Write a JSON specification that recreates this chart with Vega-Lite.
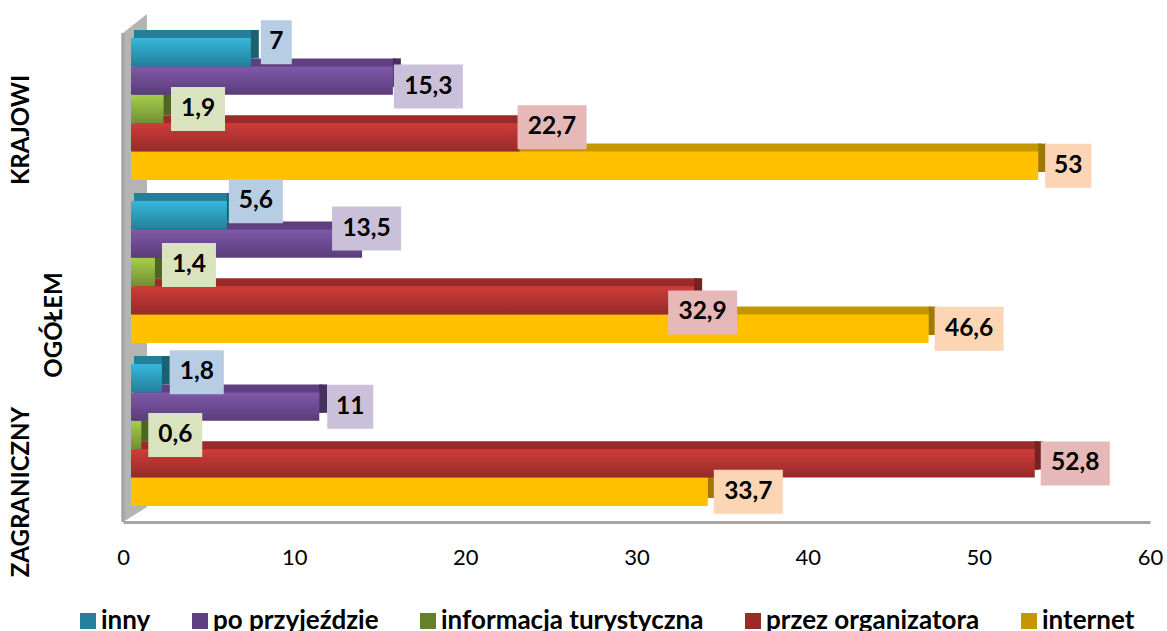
{
"$schema":"https://vega.github.io/schema/vega-lite/v6.json",
"autosize":"none","width":1027,"height":500,
"padding":{"left":123,"top":22,"right":17,"bottom":109},
"background":"white",
"config":{"view":{"stroke":null},"font":"Lato"},
"params":[
{"name":"nudge","value":{"7":[10,-10],"15,3":[1,6],"1,9":[7.5,0],"22,7":[-2,-10],"53":[7,0],"5,6":[2,-14],"13,5":[-30,-15],"1,4":[7,-7],"32,9":[-26,12],"46,6":[6,0],"1,8":[8,-6],"11":[8,0],"0,6":[7,0],"52,8":[6,0],"33,7":[6,0]}},
{"name":"boxW","value":[0,31,46,54,69]},
{"name":"slot","value":{"inny":0,"po przyjeździe":1,"informacja turystyczna":2,"przez organizatora":3,"internet":4}},
{"name":"sideColor","value":{"inny":"#1B6073","po przyjeździe":"#47305F","informacja turystyczna":"#4F6622","przez organizatora":"#752220","internet":"#A07A00"}},
{"name":"groupPos","value":{"KRAJOWI":[-101,21],"OGÓŁEM":[-68,53],"ZAGRANICZNY":[-101,57]}},
{"name":"grad","value":{
"inny":{"gradient":"linear","x1":0,"y1":0,"x2":0,"y2":1,"stops":[{"offset":0,"color":"#37B7DC"},{"offset":1,"color":"#237F9A"}]},
"po przyjeździe":{"gradient":"linear","x1":0,"y1":0,"x2":0,"y2":1,"stops":[{"offset":0,"color":"#8058A9"},{"offset":1,"color":"#5A3C7A"}]},
"informacja turystyczna":{"gradient":"linear","x1":0,"y1":0,"x2":0,"y2":1,"stops":[{"offset":0,"color":"#A5CE4C"},{"offset":1,"color":"#728F33"}]},
"przez organizatora":{"gradient":"linear","x1":0,"y1":0,"x2":0,"y2":1,"stops":[{"offset":0,"color":"#CF3C39"},{"offset":1,"color":"#942B29"}]},
"internet":{"gradient":"linear","x1":0,"y1":0,"x2":0,"y2":1,"stops":[{"offset":0,"color":"#FFC000"},{"offset":1,"color":"#FFC000"}]}
}}
],
"datasets":{
"rows":[
{"group":"ZAGRANICZNY","series":"internet","value":33.7,"label":"33,7"},
{"group":"ZAGRANICZNY","series":"przez organizatora","value":52.8,"label":"52,8"},
{"group":"ZAGRANICZNY","series":"informacja turystyczna","value":0.6,"label":"0,6"},
{"group":"ZAGRANICZNY","series":"po przyjeździe","value":11,"label":"11"},
{"group":"ZAGRANICZNY","series":"inny","value":1.8,"label":"1,8"},
{"group":"OGÓŁEM","series":"internet","value":46.6,"label":"46,6"},
{"group":"OGÓŁEM","series":"przez organizatora","value":32.9,"label":"32,9"},
{"group":"OGÓŁEM","series":"informacja turystyczna","value":1.4,"label":"1,4"},
{"group":"OGÓŁEM","series":"po przyjeździe","value":13.5,"label":"13,5"},
{"group":"OGÓŁEM","series":"inny","value":5.6,"label":"5,6"},
{"group":"KRAJOWI","series":"internet","value":53,"label":"53"},
{"group":"KRAJOWI","series":"przez organizatora","value":22.7,"label":"22,7"},
{"group":"KRAJOWI","series":"informacja turystyczna","value":1.9,"label":"1,9"},
{"group":"KRAJOWI","series":"po przyjeździe","value":15.3,"label":"15,3"},
{"group":"KRAJOWI","series":"inny","value":7,"label":"7"}
],
"wall":[{"depth":0,"high":489,"low":0},{"depth":1.4,"high":508,"low":15}]
},
"resolve":{"scale":{"y":"independent"}},
"layer":[
{"data":{"name":"wall"},
"layer":[
{"mark":{"type":"area","color":"#B4B4B4","orient":"vertical"},
"encoding":{"x":{"field":"depth","type":"quantitative","title":null,"scale":{"domain":[0,60],"nice":false},"axis":{"values":[0,10,20,30,40,50,60],"title":null,"grid":false,"ticks":false,"domainColor":"#A6A6A6","domainWidth":3,"labelFont":"Lato","labelFontSize":22,"labelColor":"#000000","labelPadding":25,"labelFlush":false}},
"y":{"field":"high","type":"quantitative","scale":{"domain":[0,500],"nice":false},"axis":null},
"y2":{"field":"low"}}},
{"mark":{"type":"rule","color":"#A6A6A6","strokeWidth":3},
"encoding":{"x":{"datum":0,"type":"quantitative"},"y":{"datum":489,"type":"quantitative"},"y2":{"datum":0}}}
]},
{"data":{"name":"rows"},
"transform":[{"calculate":"slot[datum.series]*28.4+14.2","as":"rowCentre"},
{"calculate":"datum.rowCentre-8","as":"depthCentre"},
{"calculate":"datum.rowCentre+nudge[datum.label][1]","as":"labelCentre"}],
"encoding":{
"y":{"field":"group","type":"nominal","sort":["KRAJOWI","OGÓŁEM","ZAGRANICZNY"],"scale":{"paddingInner":0.129,"paddingOuter":0.098},"axis":null}
},
"layer":[
{"mark":{"type":"bar","size":28.4,"xOffset":11,"x2Offset":16},
"encoding":{"x":{"field":"value","type":"quantitative","title":null,"scale":{"domain":[0,60],"nice":false}},
"yOffset":{"field":"depthCentre","type":"quantitative","scale":{"domain":[0,142],"nice":false,"zero":false}},
"color":{"field":"series","type":"nominal","sort":["inny","po przyjeździe","informacja turystyczna","przez organizatora","internet"],"scale":{"domain":["inny","po przyjeździe","informacja turystyczna","przez organizatora","internet"],"range":["#267F9A","#5E3F80","#64802B","#9B2B29","#C49600"]},
"legend":{"orient":"none","legendX":-48,"legendY":586,"direction":"horizontal","columns":5,"title":null,"symbolType":"square","symbolSize":256,"symbolStrokeWidth":0,"labelFont":"Lato","labelFontSize":26,"labelFontWeight":"bold","labelColor":"#000000","columnPadding":36,"labelOffset":0,"labelLimit":400,
"encoding":{"symbols":{"fill":{"value":{"expr":"grad[datum.value]"}}}}}}}},
{"mark":{"type":"bar","size":28.4,"xOffset":8,"x2Offset":16,"fill":{"expr":"sideColor[datum.series]"}},
"encoding":{"x":{"field":"value","type":"quantitative","title":null},"x2":{"field":"value"},
"yOffset":{"field":"depthCentre","type":"quantitative"}}},
{"mark":{"type":"bar","size":28.4,"xOffset":8,"x2Offset":8,"fill":{"expr":"grad[datum.series]"}},
"encoding":{"x":{"field":"value","type":"quantitative","title":null},
"yOffset":{"field":"rowCentre","type":"quantitative"}}},
{"mark":{"type":"bar","size":44,
"xOffset":{"expr":"8+nudge[datum.label][0]"},
"x2Offset":{"expr":"8+nudge[datum.label][0]+boxW[length(datum.label)]"}},
"encoding":{"x":{"field":"value","type":"quantitative","title":null},"x2":{"field":"value"},
"yOffset":{"field":"labelCentre","type":"quantitative"},
"fill":{"field":"series","type":"nominal","legend":null,"scale":{"domain":["inny","po przyjeździe","informacja turystyczna","przez organizatora","internet"],"range":["#B7CDE4","#CAC0DA","#D9E4BF","#E6B8B7","#FCD5B5"]}}}},
{"mark":{"type":"text","font":"Lato","fontWeight":"bold","fontSize":24.5,"color":"#000000","align":"center","baseline":"middle",
"dx":{"expr":"8+nudge[datum.label][0]+boxW[length(datum.label)]/2"}},
"encoding":{"x":{"field":"value","type":"quantitative","title":null},
"yOffset":{"field":"labelCentre","type":"quantitative"},"text":{"field":"label"}}},
{"transform":[{"filter":"datum.series==='inny'"}],
"mark":{"type":"text","font":"Lato","fontWeight":"bold","fontSize":24,"color":"#000000","angle":270,"align":"center","baseline":"middle",
"xOffset":{"expr":"groupPos[datum.group][0]"},"yOffset":{"expr":"groupPos[datum.group][1]"}},
"encoding":{"x":{"datum":0,"type":"quantitative","title":null},"text":{"field":"group"}}}
]}
]
}
